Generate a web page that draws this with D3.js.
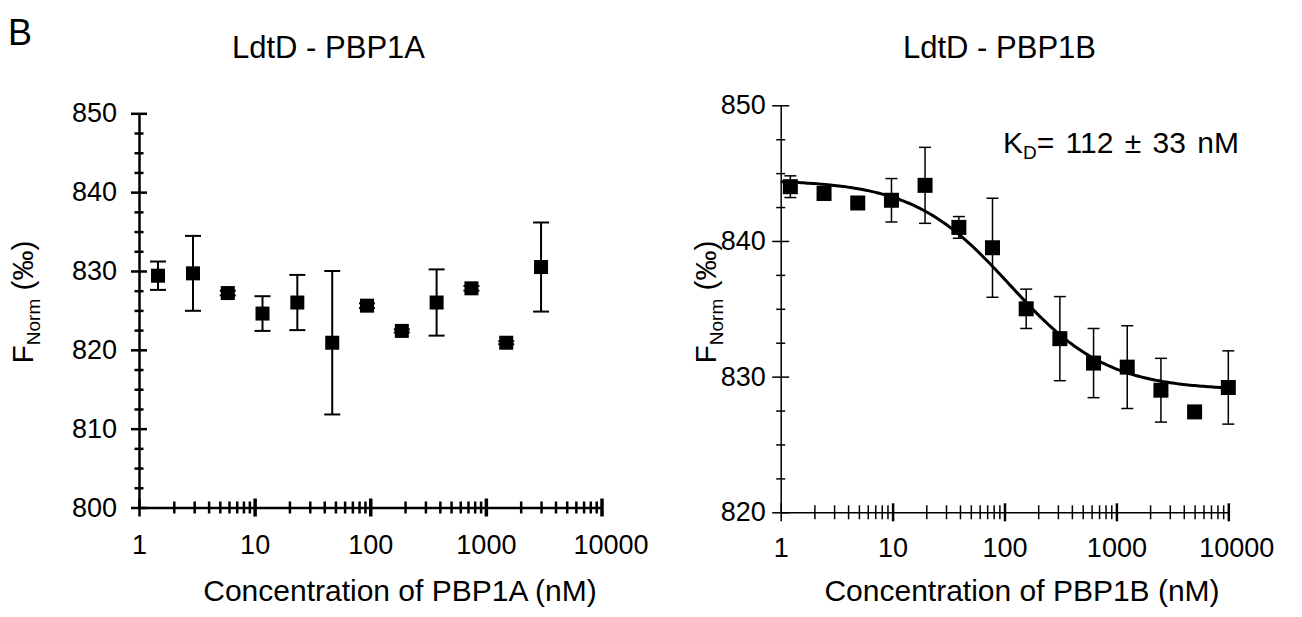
<!DOCTYPE html>
<html>
<head>
<meta charset="utf-8">
<script src="https://cdn.jsdelivr.net/npm/d3@7"></script>
<style>
	body { margin: 0; background: #fff; }
	text { font-family: "Liberation Sans", Arial, sans-serif; fill: #000; }
</style>
</head>
<body>
<svg id="fig" width="1302" height="617"></svg>
<script>
// PBP1A titration (nM), F_Norm mean and error
const concA = [1.46, 2.93, 5.86, 11.7, 23.4, 46.9, 93.75, 187.5, 375, 750, 1500, 3000];
const meanA = [829.4, 829.7, 827.2, 824.6, 826.0, 820.9, 825.6, 822.4, 826.0, 827.8, 820.9, 830.5];
const errA = [1.8, 4.75, 0.3, 2.2, 3.5, 9.1, 0.3, 0.2, 4.2, 0.3, 0.2, 5.65];

// PBP1B titration (nM)
const concB = [1.22, 2.44, 4.88, 9.77, 19.5, 39.1, 78.1, 156.25, 312.5, 625, 1250, 2500, 5000, 10000];
const meanB = [844.0, 843.5, 842.8, 843.0, 844.1, 841.0, 839.5, 835.0, 832.8, 831.0, 830.7, 829.0, 827.4, 829.2];
const errB = [0.8, 0.2, 0.2, 1.6, 2.8, 0.8, 3.65, 1.45, 3.1, 2.55, 3.05, 2.35, 0.2, 2.7];

// fit parameters for PBP1B
const fitTop = 844.5;
const fitBottom = 829.0;
const fitKd = 112;

const xTickMajors = [1, 10, 100, 1000, 10000];
const yTicksA = [800, 810, 820, 830, 840, 850];
const yTicksB = [820, 830, 840, 850];

const svg = d3.select("#fig");

function logTicks() {
	const t = [];
	for (let e = 0; e < 4; e++) {
		for (let m = 1; m < 10; m++) t.push(m * Math.pow(10, e));
	}
	t.push(10000);
	return t;
}

function minorY(lo, hi) {
	return d3.range(lo, hi + 0.01, 2.5);
}

function drawPanel(opt) {
	const g = svg.append("g");
	const x = d3.scaleLog().domain([1, 10000]).range([opt.x0, opt.x1]);
	const y = d3.scaleLinear().domain(opt.yDomain).range([opt.y0, opt.y1]);

	// x axis
	const xAxis = d3.axisBottom(x)
		.tickValues(logTicks())
		.tickFormat(d => xTickMajors.includes(d) ? d3.format("d")(d) : "")
		.tickSizeOuter(0);
	const gx = g.append("g")
		.attr("transform", `translate(0,${opt.y0})`)
		.call(xAxis);
	gx.select(".domain").attr("stroke-width", opt.axisW);
	gx.selectAll(".tick line")
		.attr("y1", d => xTickMajors.includes(d) ? -opt.xMajor : -opt.xMinor)
		.attr("y2", d => xTickMajors.includes(d) ? opt.xMajor : opt.xMinor)
		.attr("stroke-width", d => (xTickMajors.includes(d) && d !== 1) ? opt.axisW + 1 : opt.axisW);
	gx.selectAll(".tick text")
		.style("font-size", "27px")
		.attr("y", opt.xLabelY)
		.attr("dy", 0)
		.attr("dx", d => d === 10000 ? opt.lastDx : 0);

	// y axis
	const yAxis = d3.axisLeft(y)
		.tickValues(minorY(opt.yDomain[0], opt.yDomain[1]))
		.tickFormat(d => opt.yTicks.includes(d) ? d : "")
		.tickSizeOuter(0)
		.tickPadding(opt.yPad);
	const gy = g.append("g")
		.attr("transform", `translate(${opt.x0},0)`)
		.call(yAxis);
	gy.select(".domain").attr("stroke-width", opt.axisW);
	gy.selectAll(".tick line")
		.attr("x1", d => opt.yTicks.includes(d) ? -opt.yMajor : -opt.yMinor)
		.attr("x2", d => opt.yTicks.includes(d) ? opt.yMajor : opt.yMinor)
		.attr("stroke-width", opt.axisW);
	gy.selectAll(".tick text")
		.style("font-size", "27px")
		.attr("x", -opt.yPad);
	g.selectAll(".domain, .tick line").attr("stroke", "#000");
	g.selectAll(".tick text").attr("fill", "#000").style("font-family", "Liberation Sans, Arial, sans-serif");

	// fit curve
	if (opt.fit) {
		const xs = d3.range(0, 4.001, 0.02).map(e => Math.pow(10, e));
		const line = d3.line()
			.x(d => x(d))
			.y(d => y(opt.fit(d)));
		g.append("path")
			.datum(xs)
			.attr("d", line)
			.attr("fill", "none")
			.attr("stroke", "#000")
			.attr("stroke-width", 3);
	}

	// error bars
	const pts = opt.conc.map((c, i) => ({ c: c, m: opt.mean[i], e: opt.err[i] }));
	const eb = g.append("g").attr("stroke", "#000").attr("stroke-width", opt.errW);
	eb.selectAll(".v").data(pts).enter().append("line")
		.attr("x1", d => x(d.c)).attr("x2", d => x(d.c))
		.attr("y1", d => y(d.m - d.e)).attr("y2", d => y(d.m + d.e));
	eb.selectAll(".t").data(pts).enter().append("line")
		.attr("x1", d => x(d.c) - opt.cap).attr("x2", d => x(d.c) + opt.cap)
		.attr("y1", d => y(d.m + d.e)).attr("y2", d => y(d.m + d.e));
	eb.selectAll(".b").data(pts).enter().append("line")
		.attr("x1", d => x(d.c) - opt.cap).attr("x2", d => x(d.c) + opt.cap)
		.attr("y1", d => y(d.m - d.e)).attr("y2", d => y(d.m - d.e));

	// squares
	g.selectAll("rect.pt").data(pts).enter().append("rect")
		.attr("class", "pt")
		.attr("x", d => x(d.c) - opt.sq / 2)
		.attr("y", d => y(d.m) - opt.sq / 2)
		.attr("width", opt.sq)
		.attr("height", opt.sq)
		.attr("fill", "#000");

	// titles
	g.append("text")
		.attr("x", opt.titleX).attr("y", 58)
		.style("font-size", "31px")
		.text(opt.title);
	g.append("text")
		.attr("x", opt.xTitleX).attr("y", 601)
		.attr("text-anchor", "middle")
		.style("font-size", "30px")
		.text(opt.xTitle);
	const yl = g.append("text")
		.attr("transform", `translate(${opt.yTitleX},${opt.yTitleY}) rotate(-90)`)
		.attr("text-anchor", "middle")
		.style("font-size", "30px");
	yl.append("tspan").text("F");
	yl.append("tspan").attr("dy", 7).style("font-size", "19px").text("Norm");
	yl.append("tspan").attr("dy", -7).text(" (\u2030)");
	return { x, y, g };
}

svg.append("text")
	.attr("x", 8).attr("y", 45)
	.style("font-size", "36px")
	.text("B");

drawPanel({
	x0: 139, x1: 601.5, y0: 507.5, y1: 113.3,
	yDomain: [800, 850], yTicks: yTicksA,
	conc: concA, mean: meanA, err: errA,
	axisW: 2.5, errW: 2, cap: 8, sq: 14,
	xMajor: 9, xMinor: 6, yMajor: 8, yMinor: 4.5, yPad: 22,
	xLabelY: 46, lastDx: 9,
	title: "LdtD - PBP1A", titleX: 232,
	xTitle: "Concentration of PBP1A (nM)", xTitleX: 400,
	yTitleX: 33, yTitleY: 302
});

const panelB = drawPanel({
	x0: 780.7, x1: 1228.3, y0: 512.3, y1: 105.3,
	yDomain: [820, 850], yTicks: yTicksB,
	conc: concB, mean: meanB, err: errB,
	axisW: 1.5, errW: 1.5, cap: 6, sq: 15,
	xMajor: 9, xMinor: 7, yMajor: 8.5, yMinor: 4.5, yPad: 15,
	xLabelY: 45, lastDx: 8,
	fit: c => fitBottom + (fitTop - fitBottom) / (1 + c / fitKd),
	title: "LdtD - PBP1B", titleX: 903,
	xTitle: "Concentration of PBP1B (nM)", xTitleX: 1022,
	yTitleX: 716, yTitleY: 302
});

const kd = panelB.g.append("text")
	.attr("x", 1003).attr("y", 153)
	.style("font-size", "30px")
	.style("word-spacing", "3px");
kd.append("tspan").text("K");
kd.append("tspan").attr("dy", 6).style("font-size", "19px").text("D");
kd.append("tspan").attr("dy", -6).text("= 112 \u00b1 33 nM");
</script>
</body>
</html>
